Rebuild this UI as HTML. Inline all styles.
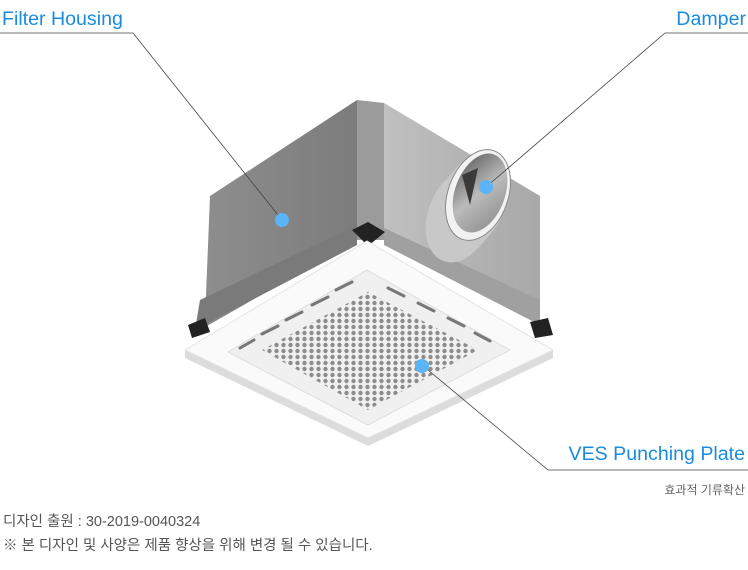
<!DOCTYPE html>
<html><head><meta charset="utf-8"><style>
html,body{margin:0;padding:0;background:#fff;}
body{width:748px;height:570px;overflow:hidden;position:relative;font-family:"Liberation Sans","Noto Sans CJK KR",sans-serif;}
.lbl{position:absolute;color:#1a8be0;font-size:19.6px;white-space:nowrap;}
.t{position:absolute;color:#555;font-size:14.5px;white-space:nowrap;}
</style></head><body>
<svg width="748" height="570" style="position:absolute;left:0;top:0">
<defs>
<pattern id="dots" width="7" height="6" patternUnits="userSpaceOnUse"><circle cx="3.5" cy="3" r="2.2" fill="#8d8d8d"/></pattern>
<linearGradient id="lf" x1="0" y1="0" x2="1" y2="0"><stop offset="0" stop-color="#8e8e8e"/><stop offset="1" stop-color="#7c7c7c"/></linearGradient>
<linearGradient id="rf" x1="0" y1="0" x2="1" y2="0"><stop offset="0" stop-color="#c0c0c0"/><stop offset="1" stop-color="#a8a8a8"/></linearGradient>
<linearGradient id="dm" x1="0" y1="0" x2="1" y2="1"><stop offset="0" stop-color="#555"/><stop offset="0.5" stop-color="#bbb"/><stop offset="1" stop-color="#888"/></linearGradient>
</defs>
<polygon points="210,196 357,100 357,240 200,330 205,320" fill="url(#lf)"/>
<polygon points="357,100 384,103 384,240 357,240" fill="#9b9b9b"/>
<polygon points="384,103 540,196 540,322 384,240" fill="url(#rf)"/>
<polygon points="200,300 357,225 357,245 195,330" fill="#7a7a7a"/>
<polygon points="384,228 540,300 540,325 384,245" fill="#a0a0a0"/>
<g fill="#c8c8c8">
<ellipse cx="460" cy="216" rx="32" ry="48" transform="rotate(20 460 216)"/>
<ellipse cx="465" cy="211" rx="32" ry="48" transform="rotate(20 465 211)"/>
<ellipse cx="470" cy="205" rx="32" ry="48" transform="rotate(20 470 205)"/>
<ellipse cx="474" cy="200" rx="32" ry="48" transform="rotate(20 474 200)"/>
</g>
<ellipse cx="478" cy="195" rx="30" ry="47" transform="rotate(20 478 195)" fill="#f2f2f2" stroke="#888"/>
<ellipse cx="480" cy="193" rx="25" ry="41" transform="rotate(20 480 193)" fill="url(#dm)"/>
<polygon points="462,175 478,168 470,205" fill="#3a3a3a"/>
<polygon points="352,230 368,222 385,232 368,246" fill="#222"/>
<polygon points="188,325 205,318 210,332 192,338" fill="#222"/>
<polygon points="530,322 548,318 553,335 535,338" fill="#222"/>
<polygon points="185,350 185,358 368,446 553,358 553,350 368,438" fill="#dcdcdc"/>
<polygon points="185,350 367,241 553,350 368,438" fill="#fafafa" stroke="#e4e4e4"/>
<polygon points="228,352 367,270 510,350 368,425" fill="#f0f0f0" stroke="#ddd"/>
<polygon points="262,350 368,292 478,350 368,410" fill="url(#dots)"/>
<g stroke="#777" stroke-width="3" stroke-linecap="round">
<line x1="336" y1="290" x2="352" y2="282"/><line x1="312" y1="305" x2="328" y2="297"/><line x1="286" y1="320" x2="302" y2="312"/><line x1="262" y1="334" x2="278" y2="326"/><line x1="240" y1="348" x2="254" y2="340"/>
<line x1="388" y1="288" x2="404" y2="296"/><line x1="418" y1="303" x2="434" y2="311"/><line x1="448" y1="318" x2="464" y2="326"/><line x1="475" y1="333" x2="490" y2="341"/>
</g>
<g stroke="#444" stroke-width="0.8" fill="none">
<polyline points="0,33 133,33 282,220"/>
<polyline points="748,33 665,33 485,188"/>
<polyline points="748,470 548,470 422,365"/>
</g>
<circle cx="282" cy="220" r="7" fill="#5ab4f5"/>
<circle cx="486" cy="187" r="7" fill="#5ab4f5"/>
<circle cx="422" cy="366" r="7" fill="#5ab4f5"/>
</svg>
<div class="lbl" style="left:2px;top:8px">Filter Housing</div>
<div class="lbl" style="right:2px;top:8px">Damper</div>
<div class="lbl" style="right:3px;top:443px">VES Punching Plate</div>
<div class="t" style="right:3px;top:481px;font-size:12px;color:#666">효과적 기류확산</div>
<div class="t" style="left:3px;top:510px">디자인 출원 : 30-2019-0040324</div>
<div class="t" style="left:3px;top:534px">※ 본 디자인 및 사양은 제품 향상을 위해 변경 될 수 있습니다.</div>
</body></html>
